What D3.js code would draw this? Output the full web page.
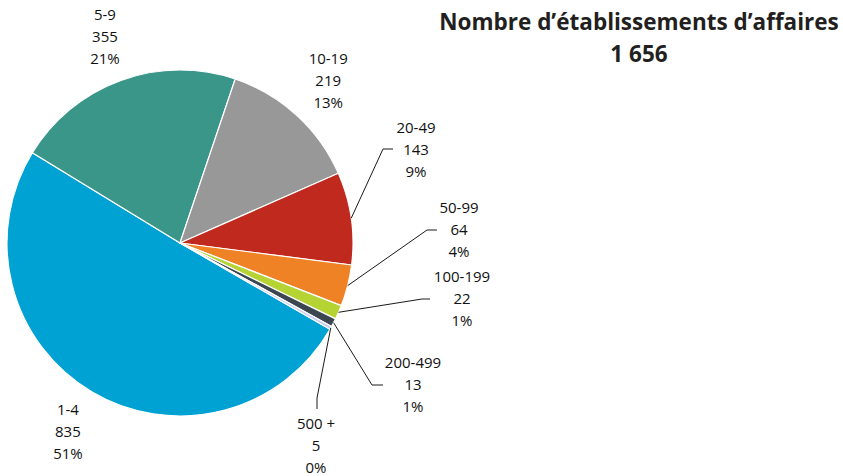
<!DOCTYPE html>
<html>
<head>
<meta charset="utf-8">
<script src="https://cdn.jsdelivr.net/npm/d3@7/dist/d3.min.js"></script>
<style>
  html, body { margin: 0; padding: 0; background: #fff; }
  svg { display: block; font-family: 'Open Sans', 'Noto Sans', sans-serif; }
</style>
</head>
<body>
<div id="chart"></div>
<script>
  // ---- data ----
  const categories = ['1-4', '5-9', '10-19', '20-49', '50-99', '100-199', '200-499', '500 +'];
  const counts     = [835, 355, 219, 143, 64, 22, 13, 5];
  const percents   = [51, 21, 13, 9, 4, 1, 1, 0];
  const colors     = ['#00a1d3', '#3a9689', '#989898', '#c0291d', '#f08226', '#b6d334', '#3c4651', '#c9cdf3'];
  const title      = 'Nombre d\u2019établissements d\u2019affaires';
  const totalLabel = '1 656';

  // ---- layout ----
  const W = 843, H = 476;
  const cx = 180, cy = 243, R = 173;
  const startAngle = 2.093;          // 1-4 starts just past 4 o'clock
  const lineGap = 22;
  // callout elbows (relative to centre) for the small slices, by category index
  const callouts = {
    3: { elbow: [203, -94],  end: [213, -94],  label: [236, -93] },
    4: { elbow: [247, -13],  end: [257, -13],  label: [279, -13] },
    5: { elbow: [242, 56],   end: [250, 56],   label: [282, 56] },
    6: { elbow: [192, 142],  end: [203, 142],  label: [233, 142] },
    7: { elbow: [137, 155],  end: [137, 166],  label: [136, 203] }
  };

  const svg = d3.select('#chart').append('svg')
    .attr('width', W).attr('height', H);

  const g = svg.append('g').attr('transform', `translate(${cx},${cy})`);

  const pie = d3.pie().sort(null).value(d => d)
    .startAngle(startAngle).endAngle(startAngle + 2 * Math.PI);
  const arcs = pie(counts);
  const arc = d3.arc().innerRadius(0).outerRadius(R);

  g.selectAll('path.slice')
    .data(arcs)
    .join('path')
    .attr('class', 'slice')
    .attr('d', arc)
    .attr('fill', (d, i) => colors[i])
    .attr('stroke', '#fff')
    .attr('stroke-width', 1.2)
    .attr('stroke-linejoin', 'round');

  const midA = d => (d.startAngle + d.endAngle) / 2;
  const polar = (a, r) => [r * Math.sin(a), -r * Math.cos(a)];

  // leader lines
  arcs.forEach((d, i) => {
    const c = callouts[i];
    if (!c) return;
    const p0 = polar(midA(d), R);
    g.append('polyline')
      .attr('points', [p0, c.elbow, c.end].map(p => p.join(',')).join(' '))
      .attr('fill', 'none')
      .attr('stroke', '#1a1a1a')
      .attr('stroke-width', 1);
  });

  // labels
  arcs.forEach((d, i) => {
    const c = callouts[i];
    const pos = c ? c.label : polar(midA(d), R * 1.27);
    const t = g.append('text')
      .attr('text-anchor', 'middle')
      .attr('font-size', 15)
      .attr('fill', '#111');
    [categories[i], counts[i], percents[i] + '%'].forEach((s, k) => {
      t.append('tspan')
        .attr('x', pos[0])
        .attr('y', pos[1] + (k - 1) * lineGap)
        .attr('dy', '0.35em')
        .text(s);
    });
  });

  // title
  svg.append('text')
    .attr('x', 639).attr('y', 30)
    .attr('text-anchor', 'middle')
    .attr('font-size', 22.5)
    .attr('font-weight', 700)
    .attr('fill', '#231f20')
    .text(title);
  svg.append('text')
    .attr('x', 639).attr('y', 62)
    .attr('text-anchor', 'middle')
    .attr('font-size', 22.5)
    .attr('font-weight', 700)
    .attr('fill', '#231f20')
    .text(totalLabel);
</script>
</body>
</html>
